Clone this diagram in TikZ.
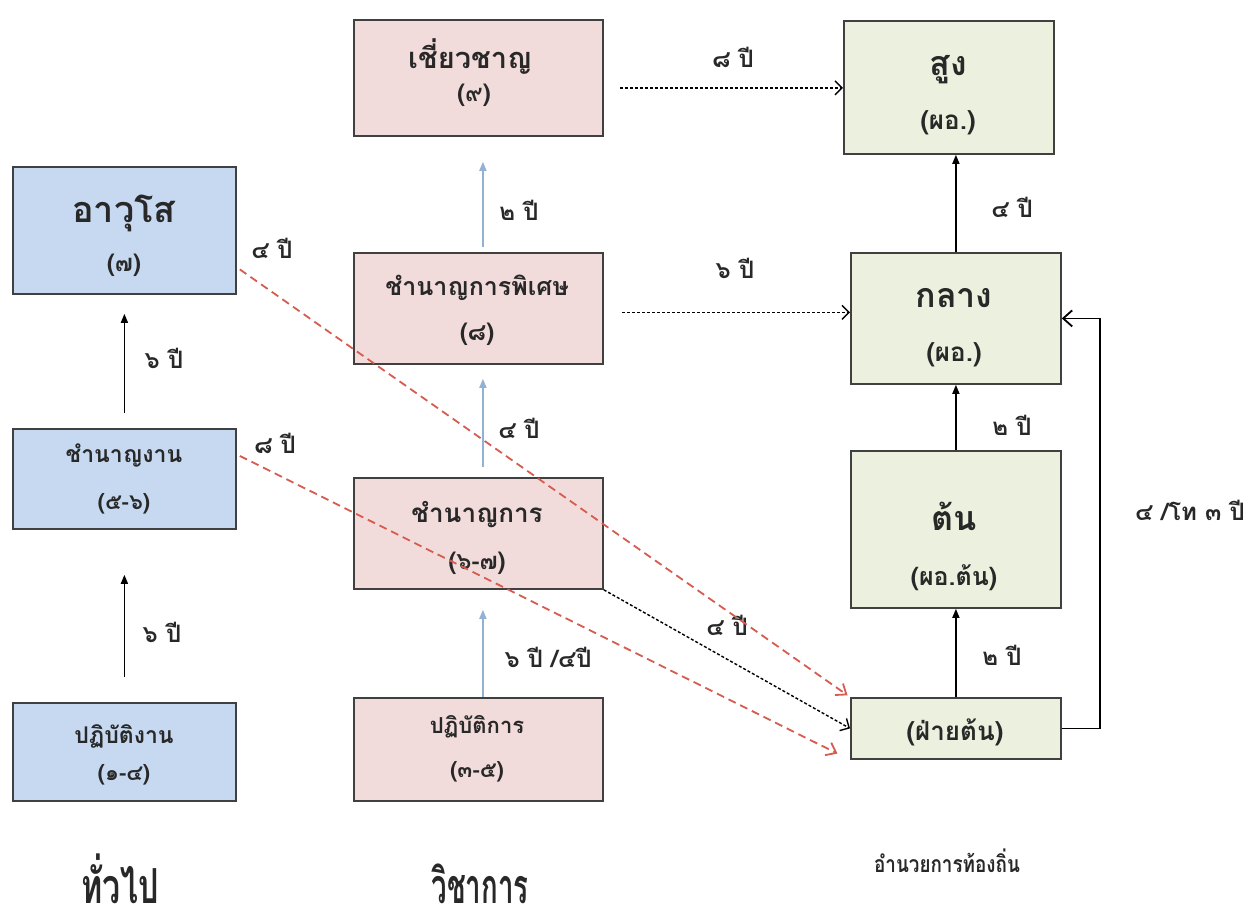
\documentclass[tikz,border=0pt]{standalone}
\usepackage{graphicx}
\usepackage{fontspec}
\setmainfont[Script=Thai]{Loma}
\usetikzlibrary{arrows.meta}
\definecolor{bluefill}{RGB}{198,217,241}
\definecolor{pinkfill}{RGB}{242,220,219}
\definecolor{greenfill}{RGB}{235,241,222}
\definecolor{boxline}{RGB}{64,64,64}
\definecolor{arrowblue}{RGB}{147,177,210}
\definecolor{reddash}{RGB}{214,92,80}
\definecolor{ink}{RGB}{40,40,40}
\newcommand\fs[1]{\fontsize{#1}{#1}\selectfont\bfseries}
\begin{document}
\begin{tikzpicture}[x=1pt,y=-1pt,
  box/.style={draw=boxline, line width=1.8pt, inner sep=0pt, anchor=north west},
  bluebox/.style={box, fill=bluefill},
  pinkbox/.style={box, fill=pinkfill},
  greenbox/.style={box, fill=greenfill},
  txt/.style={anchor=base, inner sep=0pt, text=ink},
  lbl/.style={txt, font=\fs{24}},
  uparrow/.style={-{Triangle[length=9pt,width=7pt]}, line width=1.5pt, draw=black},
  bluearrow/.style={-{Triangle[length=9pt,width=7pt]}, line width=1.5pt, draw=arrowblue, color=arrowblue},
  dasharrow/.style={-{Straight Barb[length=7pt,width=14pt]}, line width=1.4pt, dash pattern=on 3pt off 2pt},
  redarrow/.style={-{Straight Barb[length=9pt,width=14pt]}, line width=1.8pt, draw=reddash, color=reddash, dash pattern=on 8pt off 5pt},
  looparrow/.style={-{Straight Barb[length=9pt,width=16pt]}, line width=1.8pt}
]
\useasboundingbox (0,0) rectangle (1260,922);
\fill[white] (0,0) rectangle (1260,922);

% left column
\node[bluebox, minimum width=223pt, minimum height=127pt] (a7) at (12,166) {};
\node[bluebox, minimum width=223pt, minimum height=100pt] (a56) at (12,428) {};
\node[bluebox, minimum width=223pt, minimum height=98pt] (a14) at (12,702) {};
% middle column
\node[pinkbox, minimum width=249pt, minimum height=116pt] (v9) at (353,19) {};
\node[pinkbox, minimum width=249pt, minimum height=111pt] (v8) at (353,252) {};
\node[pinkbox, minimum width=249pt, minimum height=111pt] (v67) at (353,477) {};
\node[pinkbox, minimum width=249pt, minimum height=103pt] (v35) at (353,697) {};
% right column
\node[greenbox, minimum width=210pt, minimum height=133pt] (h) at (843,20) {};
\node[greenbox, minimum width=210pt, minimum height=131pt] (m) at (850,252) {};
\node[greenbox, minimum width=210pt, minimum height=157pt] (l) at (850,450) {};
\node[greenbox, minimum width=210pt, minimum height=61pt] (f) at (850,697) {};

% box texts
\node[txt, font=\fs{36}] (a7t) at (124,222) {อาวุโส};
\node[txt, font=\fs{24}] (a7n) at (124,271) {(๗)};
\node[txt, font=\fs{23}] (a56t) at (124,462) {ชำนาญงาน};
\node[txt, font=\fs{22}] (a56n) at (124,509) {(๕-๖)};
\node[txt, font=\fs{23}] (a14t) at (124,743) {ปฏิบัติงาน};
\node[txt, font=\fs{22}] (a14n) at (124,780) {(๑-๔)};

\node[txt, font=\fs{29}] (v9t) at (470,68) {เชี่ยวชาญ};
\node[txt, font=\fs{24}] (v9n) at (474,101) {(๙)};
\node[txt, font=\fs{25}] (v8t) at (477,295) {ชำนาญการพิเศษ};
\node[txt, font=\fs{24}] (v8n) at (477,340) {(๘)};
\node[txt, font=\fs{26}] (v67t) at (477,522) {ชำนาญการ};
\node[txt, font=\fs{24}] (v67n) at (477,569) {(๖-๗)};
\node[txt, font=\fs{22}] (v35t) at (477,733) {ปฏิบัติการ};
\node[txt, font=\fs{22}] (v35n) at (477,777) {(๓-๕)};

\node[txt, font=\fs{34}] (ht) at (948,75) {สูง};
\node[txt, font=\fs{26}] (hn) at (948,129) {(ผอ.)};
\node[txt, font=\fs{34}] (mt) at (954,307) {กลาง};
\node[txt, font=\fs{26}] (mn) at (954,361) {(ผอ.)};
\node[txt, font=\fs{34}] (lt) at (954,530) {ต้น};
\node[txt, font=\fs{25}] (ln) at (954,585) {(ผอ.ต้น)};
\node[txt, font=\fs{26}] (ft) at (955,740) {(ฝ่ายต้น)};

% solid vertical arrows, left
\draw[uparrow, shorten <=25pt, shorten >=45pt] (a14.north) -- (a56.south);
\draw[uparrow, shorten <=15pt, shorten >=19pt] (a56.north) -- (a7.south);
\node[lbl] (l1) at (162,642) {๖ ปี};
\node[lbl] (l2) at (164,368) {๖ ปี};

% blue arrows, middle
\draw[bluearrow, shorten >=20pt] ([xshift=4.5pt]v35.north) -- ([xshift=4.5pt]v67.south);
\draw[bluearrow, shorten <=10pt, shorten >=14pt] ([xshift=4.5pt]v67.north) -- ([xshift=4.5pt]v8.south);
\draw[bluearrow, shorten <=5pt, shorten >=25pt] ([xshift=4.5pt]v8.north) -- ([xshift=4.5pt]v9.south);
\node[lbl] (l3) at (548,667) {๖ ปี /๔ปี};
\node[lbl] (l4) at (519,438) {๔ ปี};
\node[lbl] (l5) at (519,220) {๒ ปี};

% solid arrows, right
\draw[uparrow] (f.north) -- (f.north |- l.south);
\draw[uparrow] (l.north) -- (l.north |- m.south);
\draw[uparrow] (m.north) -- (m.north |- h.south);
\node[lbl] (l6) at (1002,665) {๒ ปี};
\node[lbl] (l7) at (1012,435) {๒ ปี};
\node[lbl] (l8) at (1012,217) {๔ ปี};

% loop arrow
\draw[looparrow] (f.east) -- ++(38,0) |- (m.east);
\node[lbl] (l9) at (1190,520) {๔ /โท ๓ ปี};

% dashed black arrows
\path (v9.east) ++(0,10) coordinate (d1s);
\draw[dasharrow, shorten <=16pt] (d1s) -- (d1s -| h.west);
\node[lbl] (l10) at (733,67) {๘ ปี};
\path (v8.east) ++(0,4) coordinate (d2s);
\draw[dasharrow, shorten <=18pt] (d2s) -- (d2s -| m.west);
\node[lbl] (l11) at (735,278) {๖ ปี};
\draw[dasharrow] (v67.south east) -- (f.west);
\node[lbl] (l12) at (727,635) {๔ ปี};

% red dashed arrows
\path (a7.east) ++(3,39) coordinate (r1s);
\draw[redarrow, shorten >=3pt] (r1s) -- (f.north west);
\node[lbl] (l13) at (272,258) {๔ ปี};
\path (a56.east) ++(3,-23) coordinate (r2s);
\draw[redarrow, shorten >=14pt] (r2s) -- (f.south west);
\node[lbl] (l14) at (275,453) {๘ ปี};

% column captions
\node[txt] (c1) at (120,903) {\scalebox{0.7}[1.05]{\fs{46}ทั่วไป}};
\node[txt] (c2) at (480,903) {\scalebox{0.6}[1.05]{\fs{46}วิชาการ}};
\node[txt] (c3) at (947,872) {\scalebox{0.82}[1]{\fs{23}อำนวยการท้องถิ่น}};
\end{tikzpicture}
\end{document}
